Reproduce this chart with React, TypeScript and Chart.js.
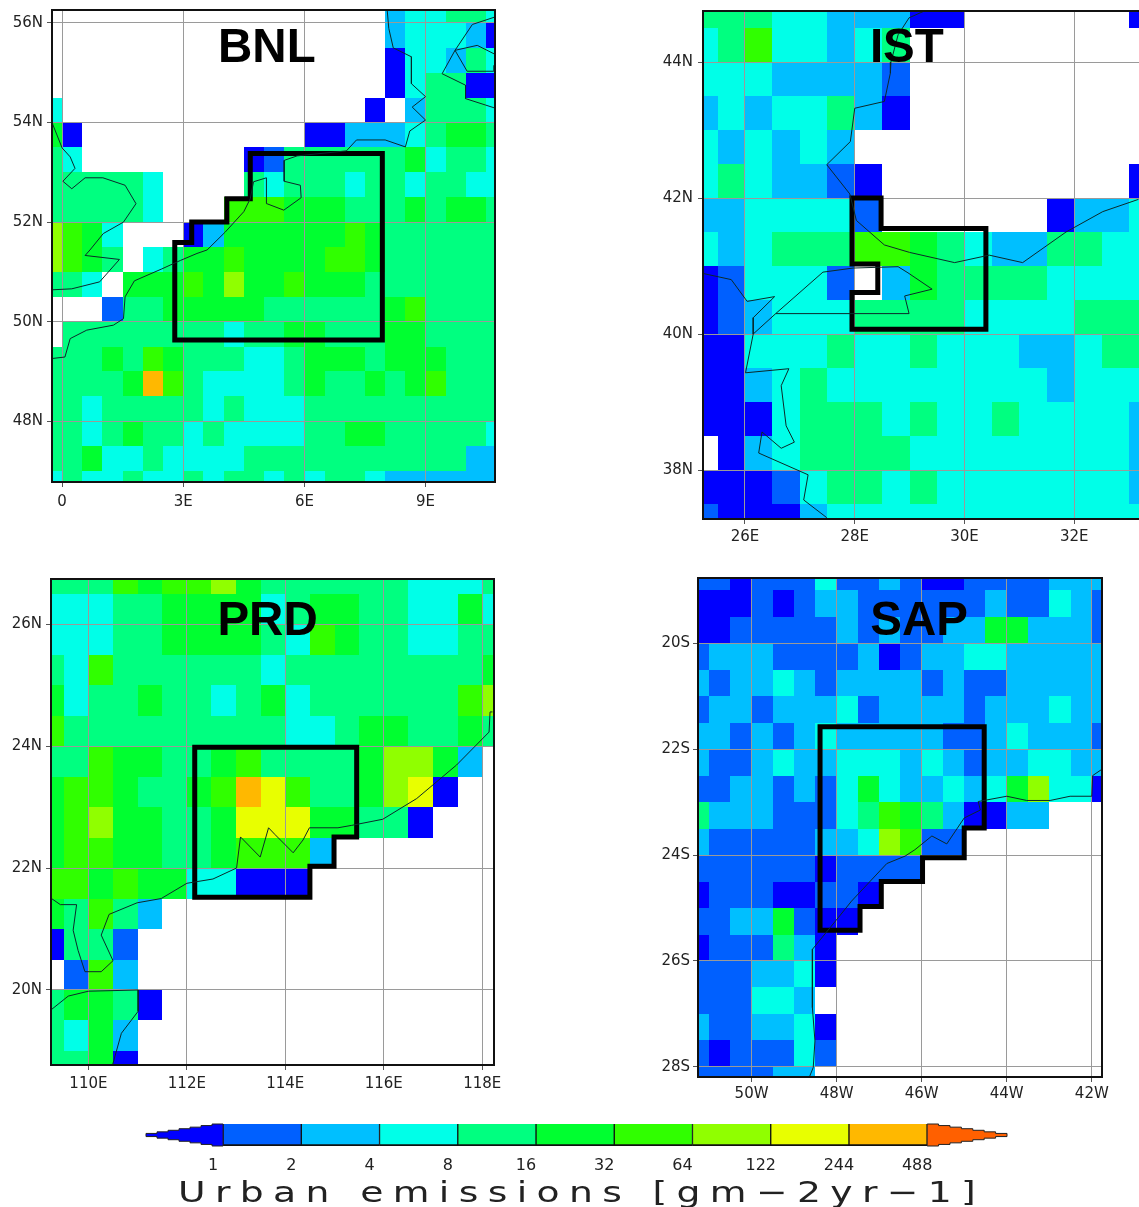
import React, { useEffect, useRef } from "react";
import { Chart, registerables } from "chart.js";

Chart.register(...registerables);

// Emission class per grid cell: 0 = no data, 1..b = colour-bar bin (hex digit)
const levelColors = [null, "#0000ff", "#0060ff", "#00bfff", "#00ffe8", "#00ff80", "#00ff30", "#30ff00", "#90ff00", "#e8ff00", "#ffb800", "#ff6000"];

const bnlCells = [
  "00000000000000000344554",
  "00000000000000000344431",
  "00000000000000000144354",
  "00000000000000000145511",
  "40000000000000001035554",
  "61000000000001133345665",
  "54000000001255555564554",
  "55555400005455545545544",
  "55555400077766655565665",
  "87640001366666676555555",
  "87650456676666776555555",
  "55406667686676665555555",
  "00025566666555555675555",
  "05555555545566555665555",
  "55565765554456665666555",
  "55556a75444456556567555",
  "55455555454445555555555",
  "55456554544445566555554",
  "55644544445555555555533",
  "45445445455454554333333",
];
const bnlLon = [0, 3, 6, 9];
const bnlLonLabels = ["0", "3E", "6E", "9E"];
const bnlLat = [48, 50, 52, 54, 56];
const bnlLatLabels = ["48N", "50N", "52N", "54N", "56N"];
const bnlCoastMain = [[8.05,56.26],[8.09,55.89],[8.2,55.5],[8.65,55.32],[8.65,54.78],[9,54.52],[8.67,54.31],[9,54.05],[8.61,53.83],[8.5,53.51],[8,53.65],[7.29,53.65],[7.04,53.43],[5.82,53.33],[5.5,53.24],[5.5,52.82],[5.9,52.74],[5.92,52.49],[5.49,52.24],[5.07,52.37],[5.06,52.89],[4.74,52.81],[4.66,52.47],[4.5,52.21],[4.04,51.8],[3.59,51.44],[3.34,51.37],[2.93,51.23],[2.47,51.06],[1.79,50.82],[1.56,50.5],[1.52,50.06],[1.27,49.93],[0.61,49.83],[0.2,49.66],[0.07,49.29],[-0.25,49.26]];
const bnlCoastUk = [[-0.25,54],[0,53.49],[0.2,53.31],[0.32,53.08],[0.02,52.82],[0.24,52.67],[0.57,52.89],[1.01,52.89],[1.56,52.74],[1.83,52.37],[1.52,52],[1.02,51.77],[0.69,51.44],[0.57,51.33],[1.42,51.25],[0.93,50.8],[0.24,50.66],[-0.25,50.64]];
const bnlCoastJutland = [[10.72,56.12],[10.16,55.97],[9.73,55.45],[9.41,54.98],[9.99,54.75],[9.99,54.48],[10.49,54.35],[10.72,54.29]];
const bnlCoastFunen = [[10.72,55.37],[10.28,55.55],[9.73,55.45],[10.03,55.03],[10.69,55.03],[10.69,55.15]];
const bnlBox = [[2.79,49.63],[2.79,51.59],[3.21,51.59],[3.21,52],[4.08,52],[4.08,52.47],[4.66,52.47],[4.66,53.38],[7.93,53.38],[7.93,49.63],[2.79,49.63]];

const istCells = [
  "55544333110000001",
  "45744345000000000",
  "44433332000000000",
  "34344531000000000",
  "43434300000000000",
  "45433210000000001",
  "33444420000001334",
  "43455577654335544",
  "12444203655554444",
  "12344455554444555",
  "11444544544433455",
  "11345444444443444",
  "11145554544544443",
  "01345555444444443",
  "11124554544444443",
  "21113444444444444",
];
const istLon = [26, 28, 30, 32];
const istLonLabels = ["26E", "28E", "30E", "32E"];
const istLat = [38, 40, 42, 44];
const istLatLabels = ["38N", "40N", "42N", "44N"];
const istCoastNorth = [[29.27,44.75],[28.99,44.65],[28.79,44.4],[28.66,44],[28.65,43.84],[28.54,43.42],[28,43.32],[27.92,42.83],[27.49,42.49],[27.91,42.06],[28.03,41.67],[28.54,41.31],[29,41.2],[29.82,41.05],[30.45,41.16],[31.06,41.05],[31.85,41.5],[32.52,41.8],[33.17,41.98]];
const istCoastAegean = [[25.24,40.89],[25.75,40.8],[26.04,40.48],[26.54,40.55],[26.15,40.24],[26.15,40],[26.01,39.43],[26.8,39.49],[26.66,39.24],[26.75,38.65],[26.9,38.41],[26.66,38.32],[26.31,38.56],[26.25,38.25],[27.15,37.93],[27.07,37.56],[27.49,37.3]];
const istCoastMarmara = [[26.15,40],[26.56,40.3],[27.42,40.91],[27.97,40.97],[28.79,40.99],[28.97,40.9],[29.41,40.66],[28.91,40.56],[28.99,40.3],[26.56,40.3]];
const istBox = [[27.95,40.07],[27.95,40.61],[28.42,40.61],[28.42,41.03],[27.95,41.03],[27.95,42],[28.48,42],[28.48,41.55],[30.39,41.55],[30.39,40.07],[27.95,40.07]];

const prdCells = [
  "5557677865555554445",
  "4445566664566554464",
  "4445566665476554455",
  "5475555554555555556",
  "6455655456455555578",
  "7555555555445665565",
  "5576655675555688630",
  "67765567a9755689100",
  "6786655699966551000",
  "6776655677730000000",
  "7767664411100000000",
  "6575300000000000000",
  "1552000000000000000",
  "0273000000000000000",
  "5665100000000000000",
  "5463000000000000000",
  "5561000000000000000",
];
const prdLon = [110, 112, 114, 116, 118];
const prdLonLabels = ["110E", "112E", "114E", "116E", "118E"];
const prdLat = [20, 22, 24, 26];
const prdLatLabels = ["20N", "22N", "24N", "26N"];
const prdCoastMain = [[118.21,24.56],[118.16,24.56],[118.14,24.23],[117.48,23.69],[116.67,23.14],[115.98,22.8],[115.35,22.7],[115.07,22.66],[114.49,22.66],[114.36,22.46],[114.16,22.25],[113.79,22.55],[113.66,22.66],[113.49,22.18],[113.09,22.51],[113.01,22],[112.53,21.82],[112,21.75],[111.48,21.5],[110.99,21.43],[110.42,21.24],[110.26,20.9],[110.5,20.48],[110.26,20.3],[109.93,20.3],[109.79,20.65],[109.69,20.98],[109.76,21.4],[109.43,21.4],[109.25,21.5]];
const prdCoastHainan = [[109.25,19.68],[109.59,19.9],[110,19.98],[111.01,20],[111.01,19.65],[110.67,19.29],[110.49,18.77]];
const prdBox = [[112.16,21.52],[112.16,23.98],[115.45,23.98],[115.45,22.51],[114.99,22.51],[114.99,22.03],[114.5,22.03],[114.5,21.52],[112.16,21.52]];

const sapCells = [
  "22122242232112222333",
  "11121233222222322432",
  "11222223232233663332",
  "23332222312334433333",
  "32334323333232233333",
  "23323334233332333433",
  "33232343333322343332",
  "32234334443432334433",
  "22332324643343468441",
  "53332224576531133000",
  "32222233487220000000",
  "22222212222000000000",
  "12221122100000000000",
  "22336211000000000000",
  "12225310000000000000",
  "22233410000000000000",
  "22244300000000000000",
  "32233410000000000000",
  "21222420000000000000",
  "22223300000000000000",
];
const sapLon = [-50, -48, -46, -44, -42];
const sapLonLabels = ["50W", "48W", "46W", "44W", "42W"];
const sapLat = [-28, -26, -24, -22, -20];
const sapLatLabels = ["28S", "26S", "24S", "22S", "20S"];
const sapCoast = [[-41.76,-22.38],[-41.98,-22.5],[-42,-22.89],[-42.51,-22.89],[-42.98,-22.97],[-43.53,-22.97],[-44,-22.89],[-44.47,-22.96],[-44.67,-22.99],[-44.62,-23.15],[-45,-23.3],[-45.41,-23.79],[-45.76,-23.64],[-46.16,-23.9],[-46.39,-24.02],[-46.82,-24.16],[-47.65,-24.87],[-47.96,-25.18],[-48.57,-25.78],[-48.57,-26.88],[-48.51,-27.51],[-48.55,-28.01],[-48.64,-28.19]];
const sapBox = [[-48.39,-25.42],[-48.39,-21.58],[-44.53,-21.58],[-44.53,-23.49],[-45,-23.49],[-45,-24.05],[-45.98,-24.05],[-45.98,-24.5],[-46.95,-24.5],[-46.95,-24.97],[-47.45,-24.97],[-47.45,-25.42],[-48.39,-25.42]];

const barLabels = ["1", "2", "4", "8", "16", "32", "64", "122", "244", "488"];
const barLevels = [2, 3, 4, 5, 6, 7, 8, 9, 10];
const barTitle = "Urban emissions [gm\u22122yr\u22121]";

const tickFont = '"DejaVu Sans"';

const panels = [
  { name: "BNL", cells: bnlCells, west: -0.5, north: 56.5, lon: bnlLon, lonLabels: bnlLonLabels, lat: bnlLat, latLabels: bnlLatLabels,
    coasts: [bnlCoastMain, bnlCoastUk, bnlCoastJutland, bnlCoastFunen], box: bnlBox, xr: [-0.25, 10.72], yr: [46.78, 56.26], titleAt: [5.07, 55.22],
    canvas: [0, 0, 520, 520], area: [52, 10, 495, 482], font: 15, xPad: 6, yPad: 4 },
  { name: "IST", cells: istCells, west: 25, north: 45, lon: istLon, lonLabels: istLonLabels, lat: istLat, latLabels: istLatLabels,
    coasts: [istCoastNorth, istCoastAegean, istCoastMarmara], box: istBox, xr: [25.235, 33.18], yr: [37.28, 44.75], titleAt: [28.95, 44.0],
    canvas: [650, 0, 489, 550], area: [703, 11, 1139, 519], font: 15, xPad: 4, yPad: 5 },
  { name: "PRD", cells: prdCells, west: 109, north: 27, lon: prdLon, lonLabels: prdLonLabels, lat: prdLat, latLabels: prdLatLabels,
    coasts: [prdCoastMain, prdCoastHainan], box: prdBox, xr: [109.24, 118.24], yr: [18.77, 26.74], titleAt: [113.64, 25.82],
    canvas: [0, 565, 520, 540], area: [51, 579, 494, 1065], font: 15, xPad: 5, yPad: 4 },
  { name: "SAP", cells: sapCells, west: -51.5, north: -18.5, lon: sapLon, lonLabels: sapLonLabels, lat: sapLat, latLabels: sapLatLabels,
    coasts: [sapCoast], box: sapBox, xr: [-51.26, -41.76], yr: [-28.19, -18.77], titleAt: [-46.06, -19.84],
    canvas: [650, 565, 489, 540], area: [698, 578, 1102, 1077], font: 15, xPad: 3, yPad: 3 },
];

type PanelCfg = (typeof panels)[number];

function toPoints(list: number[][]) {
  return list.map(([x, y]) => ({ x, y }));
}

function panelConfig(p: PanelCfg): any {
  const [cl, ct, cw, ch] = p.canvas;
  const [al, at, ar, ab] = p.area;
  const cellPlugin = {
    id: "cells",
    beforeDraw(chart: any) {
      const { ctx, chartArea: a, scales } = chart;
      ctx.save();
      ctx.beginPath();
      ctx.rect(a.left, a.top, a.right - a.left, a.bottom - a.top);
      ctx.clip();
      p.cells.forEach((row: string, r: number) => {
        for (let c = 0; c < row.length; c++) {
          const color = levelColors[parseInt(row[c], 16)];
          if (!color) continue;
          const x0 = Math.round(scales.x.getPixelForValue(p.west + c * 0.5));
          const x1 = Math.round(scales.x.getPixelForValue(p.west + (c + 1) * 0.5));
          const y0 = Math.round(scales.y.getPixelForValue(p.north - r * 0.5));
          const y1 = Math.round(scales.y.getPixelForValue(p.north - (r + 1) * 0.5));
          ctx.fillStyle = color;
          ctx.fillRect(x0, y0, x1 - x0, y1 - y0);
        }
      });
      ctx.restore();
    },
    afterDraw(chart: any) {
      const { ctx, chartArea: a, scales } = chart;
      ctx.save();
      ctx.strokeStyle = "#111";
      ctx.lineWidth = 2;
      const open = a.right >= chart.width - 1 ? 6 : 0; // the right frame is cut off by the page edge
      ctx.strokeRect(a.left, a.top, a.right - a.left + open, a.bottom - a.top);
      ctx.fillStyle = "#000";
      ctx.font = 'bold 47.5px "Liberation Sans"';
      ctx.textAlign = "center";
      ctx.textBaseline = "alphabetic";
      ctx.fillText(p.name, scales.x.getPixelForValue(p.titleAt[0]), scales.y.getPixelForValue(p.titleAt[1]));
      ctx.restore();
    },
  };
  const axis = (vals: number[], labels: string[], min: number, max: number, pad: number, extra: any) => ({
    type: "linear",
    min,
    max,
    afterBuildTicks: (s: any) => {
      s.ticks = vals.map((value) => ({ value }));
    },
    grid: { color: "#9a9a9a", lineWidth: 1, drawTicks: true, tickLength: 5, tickColor: "#555" },
    border: { display: false },
    ticks: {
      autoSkip: false,
      maxRotation: 0,
      padding: pad,
      color: "#222",
      font: { family: tickFont, size: p.font },
      callback: (v: number) => labels[vals.indexOf(v)] ?? "",
    },
    ...extra,
  });
  const noOverhang = (s: any) => {
    s.paddingLeft = 0;
    s.paddingRight = 0;
    s.paddingTop = 0;
    s.paddingBottom = 0;
  };
  return {
    type: "scatter",
    data: {
      datasets: [
        ...p.coasts.map((c) => ({ data: toPoints(c), showLine: true, borderColor: "#0b2a2a", borderWidth: 1, pointRadius: 0, tension: 0 })),
        { data: toPoints(p.box), showLine: true, borderColor: "#000", borderWidth: 5, pointRadius: 0, tension: 0, borderJoinStyle: "miter", borderCapStyle: "square", clip: false },
      ],
    },
    options: {
      animation: false,
      responsive: false,
      events: [],
      layout: { padding: { left: 0, right: cl + cw - ar, top: at - ct, bottom: 0 } },
      plugins: { legend: { display: false }, tooltip: { enabled: false }, title: { display: false } },
      scales: {
        x: axis(p.lon, p.lonLabels, p.xr[0], p.xr[1], p.xPad, { afterFit: (s: any) => { s.height = ct + ch - ab; noOverhang(s); } }),
        y: axis(p.lat, p.latLabels, p.yr[0], p.yr[1], p.yPad, { afterFit: (s: any) => { s.width = al - cl; noOverhang(s); } }),
      },
    },
    plugins: [cellPlugin],
  };
}

function barConfig(): any {
  const tipPlugin = {
    id: "tips",
    afterDatasetsDraw(chart: any) {
      const { ctx, chartArea: a, scales } = chart;
      const mid = (a.top + a.bottom) / 2;
      const half = (a.bottom - a.top) / 2;
      const steps = 7;
      // GrADS draws the end arrows of the colour bar as stepped triangles
      const tip = (from: number, to: number, color: string) => {
        const x0 = scales.x.getPixelForValue(from);
        const x1 = scales.x.getPixelForValue(to);
        const up: number[][] = [];
        for (let i = 0; i < steps; i++) {
          const h = half * (1 - i / steps);
          up.push([x0 + ((x1 - x0) * i) / steps, h], [x0 + ((x1 - x0) * (i + 1)) / steps, h]);
        }
        ctx.beginPath();
        up.forEach(([x, h], i) => (i ? ctx.lineTo(x, mid - h) : ctx.moveTo(x, mid - h)));
        up.slice().reverse().forEach(([x, h]) => ctx.lineTo(x, mid + h));
        ctx.closePath();
        ctx.fillStyle = color;
        ctx.fill();
        ctx.strokeStyle = "#222";
        ctx.lineWidth = 1;
        ctx.stroke();
      };
      ctx.save();
      tip(0, scales.x.min, levelColors[1] as string);
      tip(barLevels.length, scales.x.max, levelColors[11] as string);
      ctx.translate(48, 92);
      ctx.scale(1.3, 1);
      ctx.font = '29px "DejaVu Sans"';
      ctx.fillStyle = "#222";
      ctx.textBaseline = "alphabetic";
      ctx.textAlign = "left";
      (ctx as any).letterSpacing = "7.2px";
      ctx.fillText(barTitle, 0, 0);
      ctx.restore();
    },
  };
  return {
    type: "bar",
    data: {
      labels: ["bar"],
      datasets: barLevels.map((lv, i) => ({
        data: [[i, i + 1]],
        backgroundColor: levelColors[lv],
        borderColor: "#111",
        borderWidth: { left: 1, right: 1, bottom: 2, top: 0 },
        borderSkipped: false,
        barPercentage: 1,
        categoryPercentage: 1,
        grouped: false,
      })),
    },
    options: {
      indexAxis: "y",
      animation: false,
      responsive: false,
      events: [],
      layout: { padding: { left: 16, right: 23, top: 14, bottom: 0 } },
      plugins: { legend: { display: false }, tooltip: { enabled: false }, title: { display: false } },
      scales: {
        y: { type: "category", display: false },
        x: {
          type: "linear",
          min: -0.985,
          max: 10.02,
          afterBuildTicks: (s: any) => {
            s.ticks = barLabels.map((_, value) => ({ value }));
          },
          afterFit: (s: any) => { s.height = 61; },
          grid: { display: false },
          border: { display: false },
          ticks: {
            autoSkip: false,
            maxRotation: 0,
            padding: 2,
            labelOffset: -10,
            color: "#222",
            font: { family: tickFont, size: 16 },
            callback: (v: number) => barLabels[v] ?? "",
          },
        },
      },
    },
    plugins: [tipPlugin],
  };
}

function ChartCanvas({ config, rect }: { config: () => any; rect: number[] }) {
  const ref = useRef<HTMLCanvasElement>(null);
  useEffect(() => {
    const chart = new Chart(ref.current as HTMLCanvasElement, config());
    return () => chart.destroy();
  }, []);
  const [left, top, width, height] = rect;
  return <canvas ref={ref} width={width} height={height} style={{ position: "absolute", left, top, width, height, display: "block" }} />;
}

export default function App() {
  return (
    <div style={{ position: "absolute", left: 0, top: 0, width: 1139, height: 1207, background: "#fff", overflow: "hidden" }}>
      {panels.map((p) => (
        <ChartCanvas key={p.name} config={() => panelConfig(p)} rect={p.canvas} />
      ))}
      <ChartCanvas config={barConfig} rect={[130, 1110, 900, 97]} />
    </div>
  );
}
